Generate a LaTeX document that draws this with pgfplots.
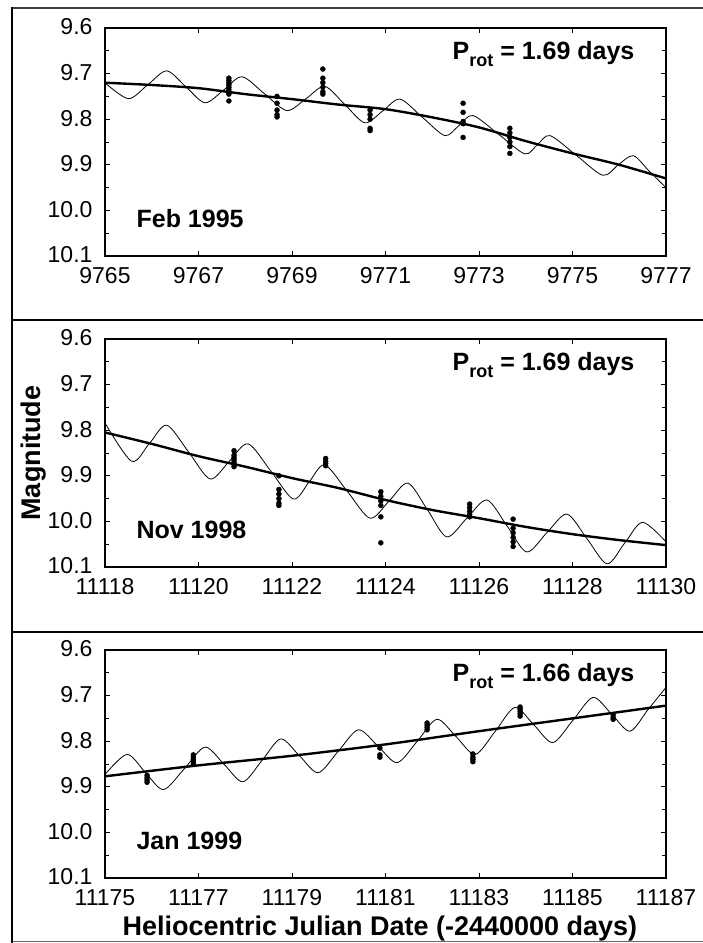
\documentclass[border=0pt]{standalone}
\usepackage{fontspec}
\setmainfont{Liberation Sans}
\usepackage{pgfplots}
\pgfplotsset{compat=1.18}

\pgfplotsset{
  lcpanel/.style={
    scale only axis, width=561pt, height=228pt,
    y dir=reverse, ymin=9.6, ymax=10.1,
    ytick={9.6,9.7,9.8,9.9,10.0,10.1},
    minor y tick num=1, minor x tick num=1,
    tick align=inside, major tick length=5pt, minor tick length=4pt,
    axis line style={line width=1.3pt},
    every tick/.style={black, line width=0.8pt},
    tick label style={font=\fontsize{23}{25}\selectfont},
    /pgf/number format/assume math mode=true,
    scaled x ticks=false,
    y tick label style={/pgf/number format/fixed, /pgf/number format/fixed zerofill,
      /pgf/number format/precision=1, xshift=-9pt, yshift=1pt},
    x tick label style={/pgf/number format/fixed, /pgf/number format/precision=0,
      /pgf/number format/set thousands separator={}, yshift=-8pt},
    clip=false,
  },
  dots/.style={only marks, mark=*, mark size=2.5pt, black},
  trend/.style={black, line width=2.4pt, smooth},
  wave/.style={black, line width=0.8pt, smooth},
}
\newcommand{\tag}[1]{\node[anchor=base west, font=\fontsize{25}{27}\selectfont\bfseries]
  at (axis description cs:0.05,0.125) {#1};}
\newcommand{\prot}[1]{\node[anchor=base east, font=\fontsize{25}{27}\selectfont\bfseries]
  at (axis description cs:0.95,0.86)
  {P\raisebox{-7pt}{\fontsize{18}{18}\selectfont rot} = #1 days};}

\begin{document}
\begin{tikzpicture}
\useasboundingbox (0,0) rectangle (703pt,943pt);

% Feb 1995
\begin{axis}[lcpanel, at={(105pt,687pt)}, anchor=south west,
    xmin=9765, xmax=9777, xtick={9765,9767,...,9777}]
  \addplot[wave] coordinates {
    (9765.00,9.720) (9765.50,9.755) (9765.91,9.725) (9766.32,9.694) (9766.73,9.729)
    (9767.14,9.764) (9767.54,9.736) (9767.93,9.707) (9768.41,9.744) (9768.89,9.781)
    (9769.30,9.755) (9769.70,9.728) (9770.13,9.768) (9770.56,9.808) (9770.94,9.782)
    (9771.31,9.756) (9771.79,9.796) (9772.27,9.836) (9772.57,9.814) (9772.87,9.792)
    (9773.43,9.834) (9773.98,9.876) (9774.25,9.856) (9774.52,9.836) (9775.09,9.880)
    (9775.65,9.923) (9775.98,9.900) (9776.30,9.880) (9776.65,9.915) (9777.00,9.950)
  };
  \addplot[trend] coordinates {
    (9765,9.720) (9766,9.725) (9767,9.732) (9768,9.745) (9769,9.756) (9770,9.768)
    (9771,9.778) (9772,9.796) (9773,9.818) (9774,9.848) (9775,9.875) (9776,9.900) (9777,9.930)
  };
  \addplot[dots] coordinates {
    (9767.65,9.710) (9767.65,9.715) (9767.65,9.720) (9767.65,9.725) (9767.65,9.730)
    (9767.65,9.735) (9767.65,9.740) (9767.65,9.745) (9767.65,9.760)
    (9768.68,9.750) (9768.68,9.765) (9768.68,9.780) (9768.68,9.790) (9768.68,9.795)
    (9769.66,9.690) (9769.66,9.710) (9769.66,9.720) (9769.66,9.730) (9769.66,9.740) (9769.66,9.745)
    (9770.67,9.780) (9770.67,9.790) (9770.67,9.800) (9770.67,9.820) (9770.67,9.825)
    (9772.66,9.765) (9772.66,9.785) (9772.66,9.805) (9772.66,9.810) (9772.66,9.840)
    (9773.66,9.820) (9773.66,9.830) (9773.66,9.840) (9773.66,9.850) (9773.66,9.860) (9773.66,9.875)
  };
  \tag{Feb 1995}
  \prot{1.69}
\end{axis}

% Nov 1998
\begin{axis}[lcpanel, at={(105pt,376pt)}, anchor=south west,
    xmin=11118, xmax=11130, xtick={11118,11120,...,11130},
    ylabel={Magnitude},
    ylabel style={at={(axis description cs:-0.128,0.5)}, anchor=center,
      font=\fontsize{27}{29}\selectfont\bfseries}]
  \addplot[wave] coordinates {
    (11118.00,9.784) (11118.57,9.868) (11118.95,9.829) (11119.32,9.789) (11119.79,9.848)
    (11120.25,9.907) (11120.66,9.868) (11121.06,9.830) (11121.55,9.890) (11122.03,9.951)
    (11122.37,9.913) (11122.70,9.876) (11123.19,9.935) (11123.67,9.993) (11124.08,9.955)
    (11124.48,9.916) (11124.90,9.975) (11125.31,10.034) (11125.74,9.993) (11126.17,9.953)
    (11126.60,10.010) (11127.02,10.067) (11127.45,10.025) (11127.88,9.984) (11128.31,10.038)
    (11128.74,10.093) (11129.12,10.047) (11129.50,10.002) (11130.00,10.045)
  };
  \addplot[trend] coordinates {
    (11118,9.805) (11119,9.830) (11120,9.857) (11121,9.880) (11122,9.905) (11123,9.927)
    (11124,9.953) (11125,9.975) (11126,9.993) (11127,10.012) (11128,10.028) (11129,10.041) (11130,10.052)
  };
  \addplot[dots] coordinates {
    (11120.76,9.845) (11120.76,9.855) (11120.76,9.860) (11120.76,9.865) (11120.76,9.870)
    (11120.76,9.875) (11120.76,9.880)
    (11121.72,9.900) (11121.72,9.930) (11121.72,9.940) (11121.72,9.950) (11121.72,9.960) (11121.72,9.965)
    (11122.72,9.862) (11122.72,9.868) (11122.72,9.873) (11122.72,9.878)
    (11123.90,9.935) (11123.90,9.945) (11123.90,9.955) (11123.90,9.965) (11123.90,9.990) (11123.90,10.047)
    (11125.80,9.962) (11125.80,9.970) (11125.80,9.978) (11125.80,9.985) (11125.80,9.990)
    (11126.73,9.995) (11126.73,10.015) (11126.73,10.025) (11126.73,10.035) (11126.73,10.045) (11126.73,10.055)
  };
  \tag{Nov 1998}
  \prot{1.69}
\end{axis}

% Jan 1999
\begin{axis}[lcpanel, at={(105pt,65pt)}, anchor=south west,
    xmin=11175, xmax=11187, xtick={11175,11177,...,11187},
    xlabel={Heliocentric Julian Date (-2440000 days)},
    xlabel style={at={(axis description cs:0.49,-0.251)}, anchor=base,
      font=\fontsize{27}{29}\selectfont\bfseries}]
  \addplot[wave] coordinates {
    (11175.00,9.873) (11175.47,9.829) (11175.86,9.868) (11176.25,9.906) (11176.70,9.860)
    (11177.14,9.813) (11177.55,9.851) (11177.95,9.889) (11178.36,9.842) (11178.76,9.795)
    (11179.16,9.832) (11179.56,9.869) (11179.99,9.822) (11180.42,9.775) (11180.84,9.811)
    (11181.25,9.847) (11181.68,9.800) (11182.10,9.752) (11182.51,9.790) (11182.92,9.829)
    (11183.35,9.778) (11183.77,9.726) (11184.18,9.765) (11184.58,9.803) (11185.01,9.754)
    (11185.44,9.704) (11185.84,9.741) (11186.23,9.778) (11186.62,9.730) (11187.00,9.682)
  };
  \addplot[trend] coordinates {
    (11175,9.877) (11177,9.853) (11179,9.832) (11181,9.807) (11183,9.778) (11185,9.750) (11187,9.722)
  };
  \addplot[dots] coordinates {
    (11175.90,9.875) (11175.90,9.880) (11175.90,9.885) (11175.90,9.890)
    (11176.89,9.830) (11176.89,9.835) (11176.89,9.840) (11176.89,9.845) (11176.89,9.850)
    (11180.88,9.815) (11180.88,9.830) (11180.88,9.835)
    (11181.89,9.760) (11181.89,9.765) (11181.89,9.770) (11181.89,9.775)
    (11182.87,9.828) (11182.87,9.835) (11182.87,9.840) (11182.87,9.845)
    (11183.88,9.725) (11183.88,9.730) (11183.88,9.735) (11183.88,9.740) (11183.88,9.745)
    (11185.87,9.742) (11185.87,9.748) (11185.87,9.752)
  };
  \tag{Jan 1999}
  \prot{1.66}
\end{axis}

% panel frames
\draw[black!75, line width=1.2pt] (12pt,935pt) -- (703pt,935pt);
\draw[line width=1.6pt] (12pt,623pt) -- (703pt,623pt);
\draw[line width=1.6pt] (12pt,311pt) -- (703pt,311pt);
\draw[black!60, line width=1.2pt] (12pt,1.5pt) -- (703pt,1.5pt);
\draw[line width=1.6pt] (12pt,0pt) -- (12pt,935.6pt);
\end{tikzpicture}
\end{document}
